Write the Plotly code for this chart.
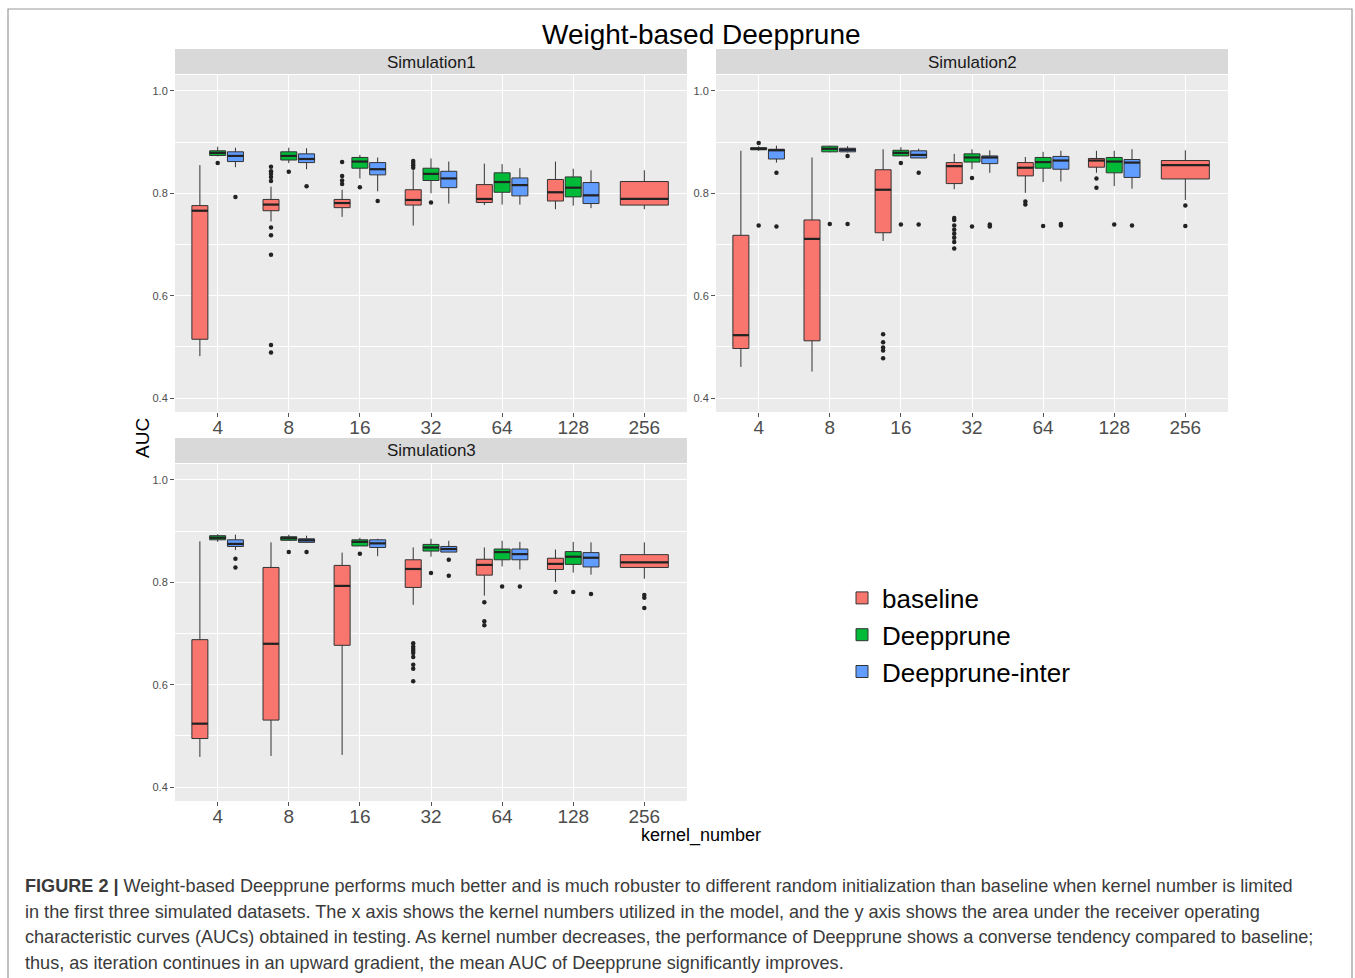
import plotly.graph_objects as go

W, H = 1355, 978
FONT = "Liberation Sans, Arial, sans-serif"

categories = ["4", "8", "16", "32", "64", "128", "256"]
groups = ["baseline", "Deepprune", "Deepprune-inter"]
group_colors = ["#F8766D", "#00BA38", "#619CFF"]
panel_titles = ["Simulation1", "Simulation2", "Simulation3"]

# Each row: (lower whisker, Q1, median, Q3, upper whisker); None = not run
s1_baseline = [(0.482, 0.515, 0.766, 0.776, 0.855), (0.745, 0.766, 0.778, 0.788, 0.813),
               (0.754, 0.772, 0.781, 0.788, 0.807), (0.737, 0.777, 0.787, 0.807, 0.845),
               (0.777, 0.782, 0.789, 0.817, 0.858), (0.769, 0.785, 0.802, 0.827, 0.862),
               (0.769, 0.777, 0.789, 0.823, 0.845)]
s1_deepprune = [(0.872, 0.874, 0.879, 0.883, 0.891), (0.859, 0.865, 0.873, 0.881, 0.889),
                (0.829, 0.849, 0.862, 0.870, 0.875), (0.800, 0.825, 0.838, 0.849, 0.868),
                (0.778, 0.802, 0.822, 0.840, 0.857), (0.776, 0.793, 0.811, 0.832, 0.848), None]
s1_inter = [(0.851, 0.862, 0.873, 0.881, 0.889), (0.847, 0.860, 0.867, 0.877, 0.888),
            (0.804, 0.836, 0.847, 0.860, 0.870), (0.780, 0.811, 0.829, 0.843, 0.862),
            (0.778, 0.795, 0.816, 0.830, 0.849), (0.771, 0.780, 0.796, 0.821, 0.845), None]
s1_baseline_out = [[], [0.852, 0.843, 0.838, 0.832, 0.824, 0.733, 0.718, 0.680, 0.504, 0.489],
                   [0.861, 0.834, 0.825, 0.818], [0.863, 0.859, 0.855, 0.850], [], [], []]
s1_deepprune_out = [[0.859], [0.842], [0.812], [0.782], [], [], []]
s1_inter_out = [[0.793], [0.814], [0.785], [], [], [], []]

s2_baseline = [(0.461, 0.497, 0.523, 0.718, 0.883), (0.452, 0.512, 0.711, 0.748, 0.870),
               (0.707, 0.723, 0.807, 0.846, 0.886), (0.808, 0.819, 0.853, 0.860, 0.877),
               (0.801, 0.834, 0.850, 0.860, 0.871), (0.840, 0.851, 0.864, 0.868, 0.883),
               (0.787, 0.828, 0.855, 0.864, 0.884)]
s2_deepprune = [(0.883, 0.885, 0.887, 0.889, 0.892), (0.880, 0.881, 0.887, 0.892, 0.893),
                (0.873, 0.873, 0.879, 0.884, 0.890), (0.847, 0.861, 0.870, 0.877, 0.886),
                (0.822, 0.849, 0.861, 0.870, 0.881), (0.814, 0.840, 0.862, 0.870, 0.883), None]
s2_inter = [(0.860, 0.867, 0.884, 0.886, 0.893), (0.880, 0.881, 0.885, 0.888, 0.892),
            (0.869, 0.869, 0.875, 0.883, 0.887), (0.840, 0.858, 0.870, 0.873, 0.884),
            (0.823, 0.847, 0.864, 0.872, 0.883), (0.809, 0.831, 0.860, 0.866, 0.886), None]
s2_baseline_out = [[], [], [0.525, 0.509, 0.499, 0.493, 0.478],
                   [0.752, 0.748, 0.737, 0.729, 0.721, 0.713, 0.705, 0.692],
                   [0.784, 0.778], [0.829, 0.811], [0.776, 0.736]]
s2_deepprune_out = [[0.898, 0.737], [0.740], [0.859, 0.739], [0.830, 0.735], [0.736], [0.739], []]
s2_inter_out = [[0.840, 0.735], [0.873, 0.740], [0.840, 0.739], [0.739, 0.735],
                [0.740, 0.737], [0.737], []]

s3_baseline = [(0.459, 0.495, 0.524, 0.688, 0.880), (0.461, 0.531, 0.680, 0.829, 0.878),
               (0.463, 0.677, 0.793, 0.833, 0.858), (0.756, 0.790, 0.826, 0.844, 0.868),
               (0.774, 0.814, 0.834, 0.845, 0.868), (0.801, 0.825, 0.836, 0.847, 0.864),
               (0.807, 0.829, 0.839, 0.854, 0.878)]
s3_deepprune = [(0.879, 0.883, 0.887, 0.891, 0.894), (0.881, 0.882, 0.886, 0.889, 0.893),
                (0.871, 0.871, 0.879, 0.883, 0.887), (0.850, 0.861, 0.868, 0.874, 0.885),
                (0.831, 0.844, 0.859, 0.865, 0.881), (0.819, 0.835, 0.850, 0.860, 0.879), None]
s3_inter = [(0.863, 0.870, 0.875, 0.883, 0.893), (0.877, 0.878, 0.882, 0.885, 0.891),
            (0.851, 0.868, 0.876, 0.883, 0.885), (0.859, 0.859, 0.865, 0.870, 0.881),
            (0.825, 0.844, 0.855, 0.865, 0.879), (0.815, 0.830, 0.848, 0.858, 0.878), None]
s3_baseline_out = [[], [], [], [0.681, 0.674, 0.670, 0.666, 0.662, 0.654, 0.639, 0.631, 0.607],
                   [0.761, 0.724, 0.716], [0.781], [0.775, 0.770, 0.750]]
s3_deepprune_out = [[], [0.859], [0.856], [0.818], [0.792], [0.781], []]
s3_inter_out = [[0.846, 0.829], [0.859], [], [0.844, 0.813], [0.792], [0.777], []]

y_ticks = [0.4, 0.6, 0.8, 1.0]
y_tick_labels = ["0.4", "0.6", "0.8", "1.0"]

caption_lines = [
    "<b>FIGURE 2 |</b> Weight-based Deepprune performs much better and is much robuster to different random initialization than baseline when kernel number is limited",
    "in the first three simulated datasets. The x axis shows the kernel numbers utilized in the model, and the y axis shows the area under the receiver operating",
    "characteristic curves (AUCs) obtained in testing. As kernel number decreases, the performance of Deepprune shows a converse tendency compared to baseline;",
    "thus, as iteration continues in an upward gradient, the mean AUC of Deepprune significantly improves.",
]

panels = [
    ([s1_baseline, s1_deepprune, s1_inter], [s1_baseline_out, s1_deepprune_out, s1_inter_out]),
    ([s2_baseline, s2_deepprune, s2_inter], [s2_baseline_out, s2_deepprune_out, s2_inter_out]),
    ([s3_baseline, s3_deepprune, s3_inter], [s3_baseline_out, s3_deepprune_out, s3_inter_out]),
]

# layout geometry in pixels (left, right, top, bottom) of each panel
panel_px = [(175, 687, 75, 412), (716, 1228, 75, 412), (175, 687, 464, 801)]
DODGE = 0.75
EDGE = "#333333"


def fx(px):
    return px / W


def fy(py):
    return 1 - py / H


fig = go.Figure()
legend_done = set()
median_traces = []
outlier_traces = []

for p, (stats, outs) in enumerate(panels):
    xa = "x" if p == 0 else f"x{p + 1}"
    ya = "y" if p == 0 else f"y{p + 1}"
    mx, my, ox, oy = [], [], [], []
    for ci in range(len(categories)):
        present = [g for g in range(len(groups)) if stats[g][ci] is not None]
        slot = DODGE / len(present)
        for k, g in enumerate(present):
            lf, q1, med, q3, uf = stats[g][ci]
            pos = ci - DODGE / 2 + slot * (k + 0.5)
            bw = slot * 0.9
            show = g not in legend_done
            legend_done.add(g)
            fig.add_trace(go.Box(
                x=[pos], q1=[q1], median=[med], q3=[q3], lowerfence=[lf], upperfence=[uf],
                width=bw, whiskerwidth=0, boxpoints=False,
                fillcolor=group_colors[g], line=dict(color=EDGE, width=1),
                name=groups[g], legendgroup=groups[g], showlegend=show,
                xaxis=xa, yaxis=ya, hoverinfo="skip",
            ))
            mx += [pos - bw / 2, pos + bw / 2, None]
            my += [med, med, None]
            for v in outs[g][ci]:
                ox.append(pos)
                oy.append(v)
    median_traces.append(go.Scatter(x=mx, y=my, mode="lines", line=dict(color="#222222", width=2.2),
                                    showlegend=False, hoverinfo="skip", xaxis=xa, yaxis=ya))
    outlier_traces.append(go.Scatter(x=ox, y=oy, mode="markers",
                                     marker=dict(color="#222222", size=4.5),
                                     showlegend=False, hoverinfo="skip", xaxis=xa, yaxis=ya))

for t in median_traces + outlier_traces:
    fig.add_trace(t)

axis_common_x = dict(
    range=[-0.6, len(categories) - 0.4], tickmode="array", tickvals=list(range(len(categories))),
    ticktext=categories, showgrid=True, gridcolor="white", gridwidth=1.2, zeroline=False,
    showline=False, ticks="outside", ticklen=4, tickcolor="#555555", ticklabelstandoff=-6,
    tickfont=dict(size=19, color="#4d4d4d", family=FONT),
)
axis_common_y = dict(
    range=[0.373, 1.031], tickmode="array", tickvals=y_ticks, ticktext=y_tick_labels,
    showgrid=True, gridcolor="white", gridwidth=1.2, zeroline=False, showline=False,
    ticks="outside", ticklen=4, tickcolor="#555555",
    tickfont=dict(size=11, color="#4d4d4d", family=FONT),
    minor=dict(dtick=0.1, tick0=0.0, showgrid=True, gridcolor="white", gridwidth=0.5, ticks=""),
)

layout_axes = {}
shapes = []
annotations = []
for p, (l, r, t, b) in enumerate(panel_px):
    suffix = "" if p == 0 else str(p + 1)
    layout_axes[f"xaxis{suffix}"] = dict(axis_common_x, domain=[fx(l), fx(r)],
                                         anchor=f"y{suffix}")
    layout_axes[f"yaxis{suffix}"] = dict(axis_common_y, domain=[fy(b), fy(t)],
                                         anchor=f"x{suffix}")
    # facet strip
    shapes.append(dict(type="rect", xref="paper", yref="paper", x0=fx(l), x1=fx(r),
                       y0=fy(t - 1), y1=fy(t - 26), fillcolor="#D9D9D9", line=dict(width=0),
                       layer="below"))
    annotations.append(dict(text=panel_titles[p], xref="paper", yref="paper",
                            x=fx((l + r) / 2), y=fy(t - 13), showarrow=False,
                            xanchor="center", yanchor="middle",
                            font=dict(size=17, color="#1a1a1a", family=FONT)))

# figure border
shapes.append(dict(type="rect", xref="paper", yref="paper", x0=fx(8), x1=fx(1352),
                   y0=-0.05, y1=fy(9), line=dict(color="#9a9a9a", width=1.2),
                   fillcolor="rgba(0,0,0,0)", layer="below"))

annotations += [
    dict(text="Weight-based Deepprune", xref="paper", yref="paper", x=fx(701), y=fy(35),
         showarrow=False, xanchor="center", yanchor="middle",
         font=dict(size=28, color="black", family=FONT)),
    dict(text="AUC", xref="paper", yref="paper", x=fx(142), y=fy(438), textangle=-90,
         showarrow=False, xanchor="center", yanchor="middle",
         font=dict(size=19, color="black", family=FONT)),
    dict(text="kernel_number", xref="paper", yref="paper", x=fx(701), y=fy(835),
         showarrow=False, xanchor="center", yanchor="middle",
         font=dict(size=18, color="black", family=FONT)),
]
for i, line in enumerate(caption_lines):
    annotations.append(dict(text=line, xref="paper", yref="paper", x=fx(23),
                            y=fy(886 + i * 25.5), showarrow=False, xanchor="left",
                            yanchor="middle", align="left",
                            font=dict(size=18.1, color="#3a3a3a", family=FONT)))

fig.update_layout(
    width=W, height=H, margin=dict(l=0, r=0, t=0, b=0, autoexpand=False),
    paper_bgcolor="white", plot_bgcolor="#EBEBEB", boxmode="overlay", hovermode=False,
    font=dict(family=FONT, color="#333333"),
    legend=dict(x=fx(842), y=fy(635), xanchor="left", yanchor="middle",
                bgcolor="rgba(0,0,0,0)", font=dict(size=26, color="black", family=FONT),
                itemwidth=30, traceorder="normal", tracegroupgap=0),
    shapes=shapes, annotations=annotations, **layout_axes,
)

fig.write_html("out.html")
